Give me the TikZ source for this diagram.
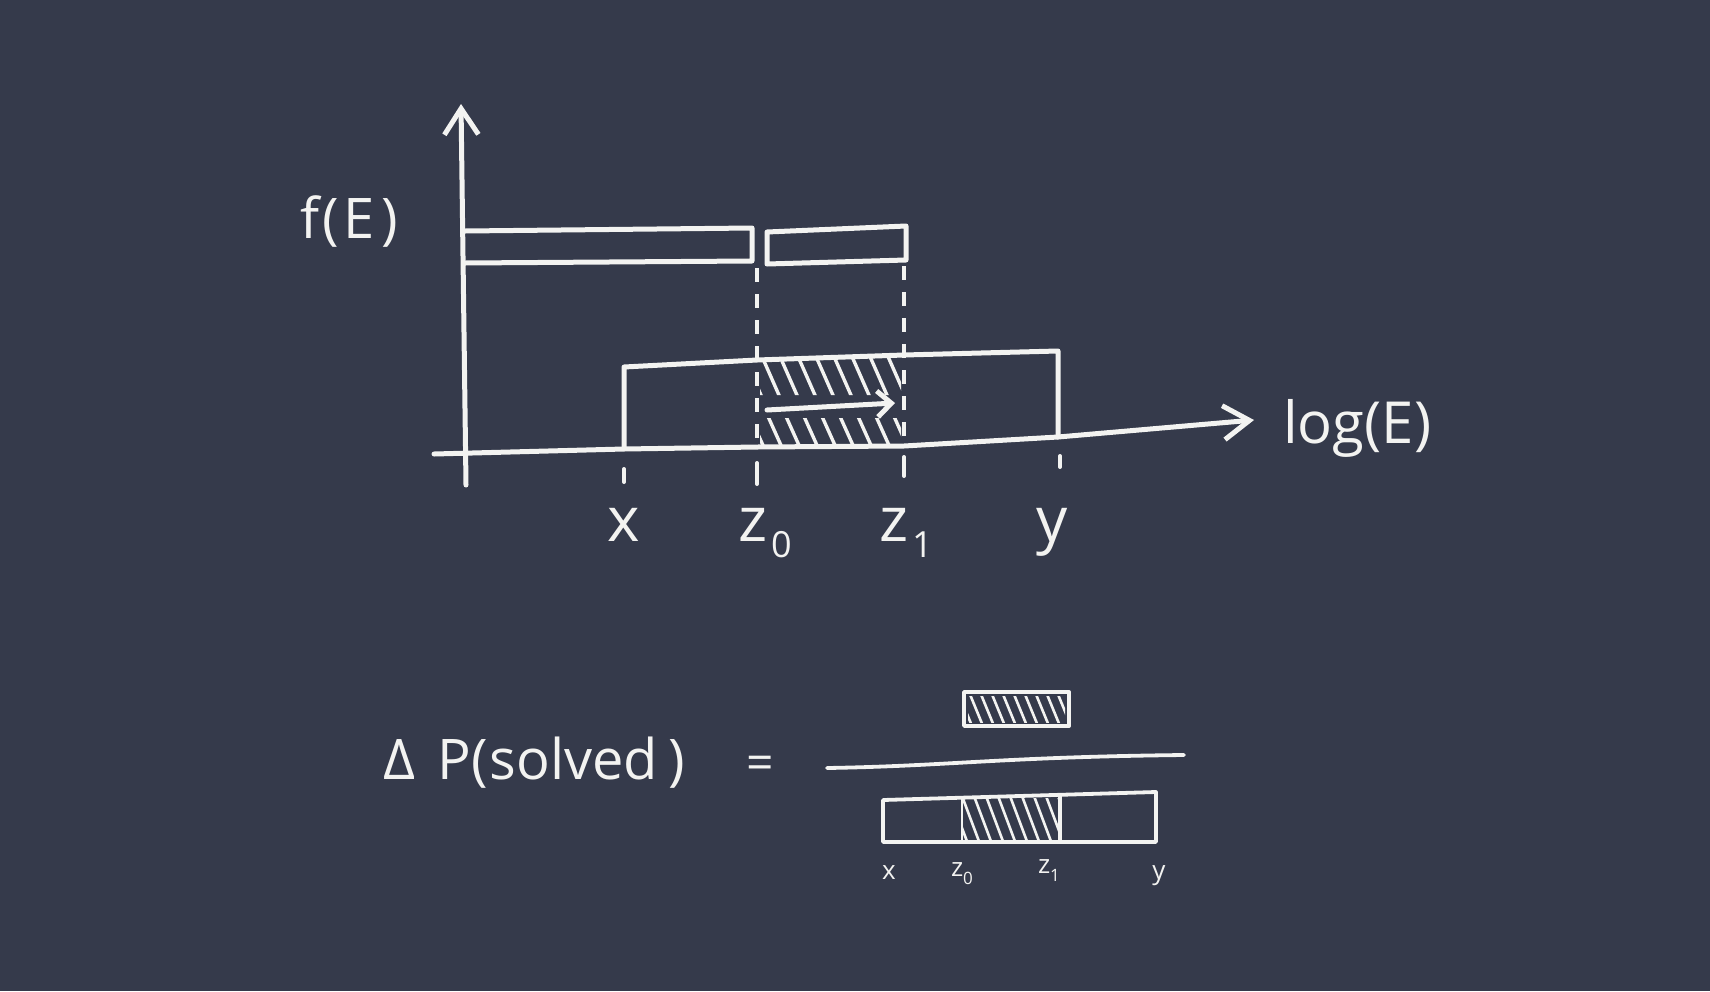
\documentclass[tikz,border=0pt]{standalone}
\usepackage{fontspec}
\setmainfont{Open Sans}
\usetikzlibrary{arrows.meta}
\definecolor{bg}{HTML}{353A4B}
\definecolor{chalk}{HTML}{F3F3F1}
\begin{document}
\begin{tikzpicture}[x=1pt,y=-1pt,
  stroke/.style={draw=chalk, line width=5pt, line cap=round, line join=round},
  thinstroke/.style={draw=chalk, line width=3.8pt, line cap=round, line join=round},
  hatchline/.style={draw=chalk, line width=3.4pt, line cap=round},
  smallhatch/.style={draw=chalk, line width=2.6pt, line cap=round},
  dashline/.style={draw=chalk, line width=4pt, dash pattern=on 14pt off 12pt},
  tick/.style={draw=chalk, line width=4pt, line cap=round},
  head/.style={-{Straight Barb[length=26pt,width=34pt,line width=5pt]}},
  lbl/.style={text=chalk, inner sep=0pt}]
\fill[bg] (0,0) rectangle (1710,991);
\useasboundingbox (0,0) rectangle (1710,991);

% axes
\coordinate (yb) at (466,485);
\coordinate (yt) at (461,104);
\coordinate (xl) at (434,454);
\coordinate (xr) at (1254,420);
\draw[stroke, head] (yb) -- (yt);
\draw[stroke, head] (xl) -- (624,449) -- (757,447) -- (904,446) -- (1058,437) -- (xr);

% upper boxes
\draw[stroke] (465,231) -- (752,228) -- (752,261) -- (465,263);
\draw[stroke] (767,232) -- (906,226) -- (906,260) -- (767,264) -- cycle;

% dashed guides
\draw[dashline] (757,268) -- (757,446);
\draw[dashline] (904,266) -- (904,445);

% lower box
\draw[stroke] (624,448) -- (624,367) -- (757,360) -- (904,355) -- (1058,351) -- (1058,437);

% hatching in the upper plot
\begin{scope}
  \clip (760,362) -- (901,357) -- (901,395) -- (760,395) -- cycle;
  \foreach \i in {0,...,9} \draw[hatchline] ({742+\i*18},352) -- ++(22,50);
\end{scope}
\begin{scope}
  \clip (760,418) rectangle (901,445);
  \foreach \i in {0,...,9} \draw[hatchline] ({748+\i*18},412) -- ++(18,40);
\end{scope}
\coordinate (a0) at (767,410);
\coordinate (a1) at (895,403);
\draw[stroke, -{Straight Barb[length=14pt,width=26pt,line width=5pt]}] (a0) -- (a1);

% ticks
\draw[tick] (624,469) -- (624,482);
\draw[tick] (757,463) -- (757,484);
\draw[tick] (904,457) -- (904,476);
\draw[tick] (1060,456) -- (1060,467);

% labels upper
\node[lbl, font=\fontsize{56}{60}\selectfont] (fE) at (349,222) {f\hspace{3pt}(\hspace{5pt}E\hspace{6pt})};
\node[lbl, font=\fontsize{58}{64}\selectfont, anchor=west] (logE) at (1283,428) {log(E)};
\node[lbl, font=\fontsize{62}{64}\selectfont, anchor=base] (lx) at (624,541) {x};
\node[lbl, font=\fontsize{62}{64}\selectfont, anchor=base] (lz0) at (765,541) {z\hspace{4pt}\raisebox{-16pt}{\fontsize{36}{36}\selectfont 0}};
\node[lbl, font=\fontsize{62}{64}\selectfont, anchor=base] (lz1) at (906,541) {z\hspace{4pt}\raisebox{-16pt}{\fontsize{36}{36}\selectfont 1}};
\node[lbl, font=\fontsize{62}{64}\selectfont, anchor=base] (ly) at (1052,541) {y};

% lower equation
\node[lbl, font=\fontsize{56}{60}\selectfont] (dp) at (534,763) {Δ\hspace{22pt}P(\hspace{2pt}solved\hspace{10pt})};
\node[lbl, font=\fontsize{48}{54}\selectfont] (eq) at (760,768) {=};
\coordinate (f0) at (827,768);
\coordinate (f1) at (1184,755);
\draw[thinstroke] (f0) .. controls (950,766) and (1000,757) .. (f1);

% numerator box
\draw[thinstroke] (964,692) rectangle (1069,726);
\begin{scope}
  \clip (968,696) rectangle (1065,722);
  \foreach \i in {0,...,10} \draw[smallhatch] ({958+\i*11},692) -- ++(14,34);
\end{scope}

% denominator box
\draw[thinstroke] (883,800) -- (1156,792) -- (1156,842) -- (883,842) -- cycle;
\draw[smallhatch] (962,798) -- (962,842);
\draw[thinstroke] (1060,795) -- (1060,842);
\begin{scope}
  \clip (963,798) rectangle (1059,841);
  \foreach \i in {0,...,9} \draw[smallhatch] ({950+\i*12},796) -- ++(18,48);
\end{scope}

% small labels
\node[lbl, font=\fontsize{26}{28}\selectfont] (sx) at (889,873) {x};
\node[lbl, font=\fontsize{26}{28}\selectfont] (sz0) at (962,874) {z\raisebox{-8pt}{\fontsize{17}{17}\selectfont 0}};
\node[lbl, font=\fontsize{26}{28}\selectfont] (sz1) at (1049,871) {z\raisebox{-8pt}{\fontsize{17}{17}\selectfont 1}};
\node[lbl, font=\fontsize{26}{28}\selectfont] (sy) at (1159,876) {y};
\end{tikzpicture}
\end{document}
